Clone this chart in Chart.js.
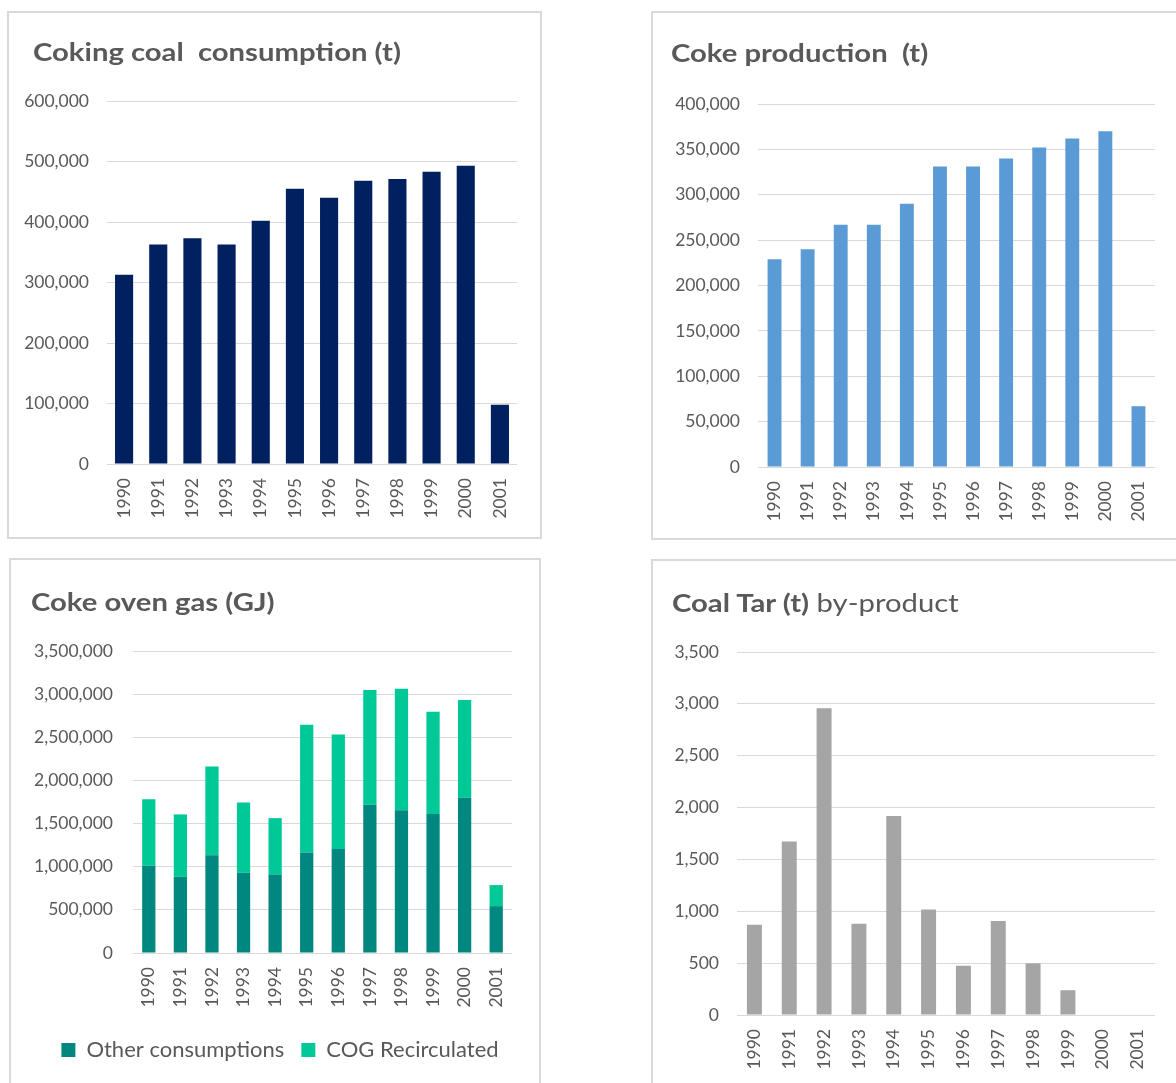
<!DOCTYPE html>
<html>
<head>
<meta charset="utf-8">
<script src="https://cdn.jsdelivr.net/npm/chart.js@4/dist/chart.umd.min.js"></script>
<style>
  html, body { margin: 0; padding: 0; background: #ffffff; }
  body { width: 1176px; height: 1083px; position: relative; overflow: hidden; font-family: Lato, "Open Sans", sans-serif; }
  .panel { position: absolute; border: 2px solid #d9d9d9; box-sizing: border-box; background: #fff; }
  .title { position: absolute; color: #595959; font-size: 25px; white-space: pre; line-height: 1; transform: scaleX(1.17); transform-origin: 0 0; }
  .title b { font-weight: 700; }
  .title span { font-weight: 400; }
  .cw { position: absolute; left: 0; top: 0; }
</style>
</head>
<body>
<div class="panel" id="p1" style="left:7px; top:11px; width:535px; height:528px;">
  <div class="cw" style="width:531px; height:524px;"><canvas id="c1"></canvas></div>
  <div class="title" style="left:24px; top:26px;"><b>Coking coal  consumption (t)</b></div>
</div>
<div class="panel" id="p2" style="left:651px; top:11px; width:540px; height:529px;">
  <div class="cw" style="width:536px; height:525px;"><canvas id="c2"></canvas></div>
  <div class="title" style="left:18px; top:27px;"><b>Coke production  (t)</b></div>
</div>
<div class="panel" id="p3" style="left:9px; top:558px; width:532px; height:530px;">
  <div class="cw" style="width:538px; height:526px;"><canvas id="c3"></canvas></div>
  <div class="title" style="left:20px; top:29px;"><b>Coke oven gas (GJ)</b></div>
</div>
<div class="panel" id="p4" style="left:651px; top:559px; width:540px; height:530px;">
  <div class="cw" style="width:536px; height:526px;"><canvas id="c4"></canvas></div>
  <div class="title" style="left:19px; top:29px;"><b>Coal Tar (t)</b> <span>by-product</span></div>
</div>
<script>
const years = ['1990','1991','1992','1993','1994','1995','1996','1997','1998','1999','2000','2001'];
const cokingCoal = [313000, 363000, 373000, 363000, 402000, 455000, 440000, 468000, 471000, 483000, 493000, 98000];
const cokeProduction = [229000, 240000, 267000, 267000, 290000, 331000, 331000, 340000, 352000, 362000, 370000, 67000];
const cogOther = [1010000, 882000, 1134000, 929000, 909000, 1165000, 1205000, 1717000, 1654000, 1610000, 1799000, 543000];
const cogRecirculated = [773000, 724000, 1027000, 815000, 654000, 1481000, 1326000, 1330000, 1409000, 1185000, 1134000, 244000];
const coalTar = [871, 1673, 2957, 881, 1919, 1018, 475, 907, 498, 239, 0, 0];

const TEXT = '#595959';
const GRID = '#d9d9d9';
const FONT = 'Lato, "Open Sans", sans-serif';

function scales(yMax, yStep, yWidth, xHeight, stacked, yPad) {
  return {
    x: {
      stacked: !!stacked,
      grid: { display: false, drawTicks: false },
      border: { display: false },
      ticks: { color: TEXT, font: { family: FONT, size: 17.5 }, minRotation: 90, maxRotation: 90, padding: 14, autoSkip: false },
      afterFit(s) { s.height = xHeight; }
    },
    y: {
      stacked: !!stacked,
      min: 0, max: yMax,
      grid: { color: GRID, lineWidth: 1, drawTicks: false },
      border: { display: false },
      ticks: { color: TEXT, font: { family: FONT, size: 17.5 }, stepSize: yStep, padding: yPad || 18,
               callback: v => v.toLocaleString('en-US') },
      afterFit(s) { s.width = yWidth; }
    }
  };
}

function baseOpts(pad, sc, legend) {
  return {
    responsive: true,
    maintainAspectRatio: false,
    animation: false,
    layout: { padding: pad },
    plugins: {
      legend: legend || { display: false },
      tooltip: { enabled: false },
      title: { display: false }
    },
    scales: sc
  };
}

new Chart(document.getElementById('c1'), {
  type: 'bar',
  data: { labels: years, datasets: [{ label: 'Coking coal consumption (t)', data: cokingCoal, backgroundColor: '#002060', categoryPercentage: 1, barPercentage: 0.53 }] },
  options: baseOpts({ left: 0, top: 88, right: 23, bottom: 0 }, scales(600000, 100000, 98, 73))
});

new Chart(document.getElementById('c2'), {
  type: 'bar',
  data: { labels: years, datasets: [{ label: 'Coke production (t)', data: cokeProduction, backgroundColor: '#5b9bd5', categoryPercentage: 1, barPercentage: 0.42 }] },
  options: baseOpts({ left: 0, top: 91, right: 34, bottom: 0 }, scales(400000, 50000, 105, 71))
});

const sc3 = scales(3500000, 500000, 122, 69, true, 20);
sc3.yPad = {
  type: 'linear', position: 'right', display: true,
  grid: { display: false }, border: { display: false }, ticks: { display: false },
  afterFit(s) { s.width = 37; }
};
new Chart(document.getElementById('c3'), {
  type: 'bar',
  data: { labels: years, datasets: [
    { label: 'Other consumptions', data: cogOther, backgroundColor: '#00877f', categoryPercentage: 1, barPercentage: 0.42 },
    { label: 'COG Recirculated', data: cogRecirculated, backgroundColor: '#00c896', categoryPercentage: 1, barPercentage: 0.42 }
  ] },
  options: baseOpts({ left: 0, top: 91, right: 0, bottom: 15 }, sc3,
    { display: true, position: 'bottom',
      labels: { color: TEXT, font: { family: FONT, size: 22 }, boxWidth: 14, boxHeight: 14, padding: 17 } })
});

new Chart(document.getElementById('c4'), {
  type: 'bar',
  data: { labels: years, datasets: [{ label: 'Coal Tar (t) by-product', data: coalTar, backgroundColor: '#a5a5a5', categoryPercentage: 1, barPercentage: 0.43 }] },
  options: baseOpts({ left: 0, top: 91, right: 34, bottom: 0 }, scales(3500, 500, 84, 72))
});
</script>
</body>
</html>
